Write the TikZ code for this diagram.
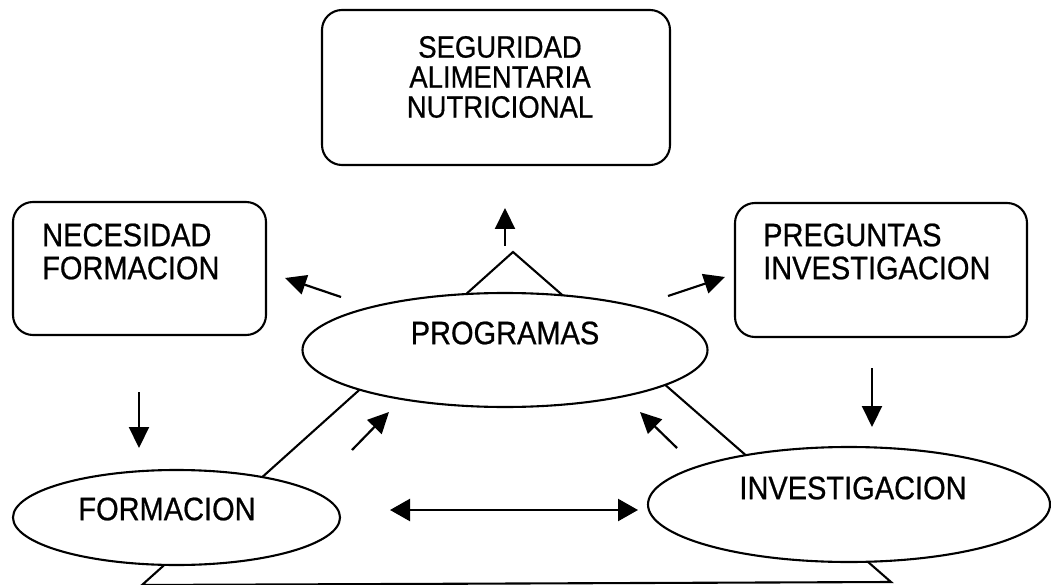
\documentclass[tikz,border=0pt]{standalone}
\usepackage{fontspec}
\setmainfont{Liberation Sans}
\newfontfamily\dgfont{Liberation Sans}[FakeBold=0.7]
\usetikzlibrary{arrows.meta,shapes.geometric}
\tikzset{
  box/.style={draw, line width=2.1pt, rounded corners=20pt, inner sep=0pt},
  oval/.style={draw, ellipse, fill=white, line width=2.1pt, inner sep=0pt},
  lbl/.style={inner sep=0pt, font=\dgfont\fontsize{29}{33}\selectfont},
  toplbl/.style={inner sep=0pt, align=center, font=\dgfont\fontsize{27.5}{30}\selectfont},
  sidelbl/.style={inner sep=0pt, align=left, anchor=west, font=\dgfont\fontsize{29}{33}\selectfont},
  tri/.style={line width=2.1pt, line join=miter},
  arr/.style={line width=2.2pt, -{Triangle[length=21pt,width=20pt]}},
  darr/.style={line width=2.4pt, {Triangle[length=20pt,width=22pt]}-{Triangle[length=20pt,width=22pt]}}
}
\newcommand{\tall}[1]{\scalebox{1}[1.12]{#1}}
\begin{document}
\begin{tikzpicture}[x=1pt,y=-1pt]
\useasboundingbox (0,0) rectangle (1051,585);
\fill[white] (0,0) rectangle (1051,585);

% big triangle behind the ellipses
\draw[tri] (513,252) -- (142,585) -- (891,582) -- cycle;

% boxes
\node[box, minimum width=348pt, minimum height=155pt] (seg) at (496,87.5) {};
\node[toplbl] (segtxt) at (500,77) {\tall{SEGURIDAD}\\\tall{ALIMENTARIA}\\\tall{NUTRICIONAL}};

\node[box, minimum width=253pt, minimum height=133pt] (nec) at (139.5,268.5) {};
\node[sidelbl] (nectxt) at (42,251.5) {\tall{NECESIDAD}\\\tall{FORMACION}};

\node[box, minimum width=292pt, minimum height=134pt] (preg) at (881,270) {};
\node[sidelbl] (pregtxt) at (763,251.5) {\tall{PREGUNTAS}\\\tall{INVESTIGACION}};

% ellipses
\node[oval, minimum width=405pt, minimum height=114pt] (prog) at (505,350) {};
\node[lbl] (progtxt) at (505,333) {\tall{PROGRAMAS}};

\node[oval, minimum width=327pt, minimum height=95pt] (form) at (176.5,517.5) {};
\node[lbl] (formtxt) at (167,509) {\tall{FORMACION}};

\node[oval, minimum width=402pt, minimum height=115pt] (inv) at (849,504.5) {};
\node[lbl] (invtxt) at (853,488) {\tall{INVESTIGACION}};

% arrow end points
\coordinate (upS) at (505,246);   \coordinate (upE) at (505,208);
\coordinate (lS) at (341,297);    \coordinate (lE) at (285,278);
\coordinate (rS) at (668,296);    \coordinate (rE) at (725,277);
\coordinate (ndS) at (139,392);   \coordinate (ndE) at (139,448);
\coordinate (pdS) at (872,368);   \coordinate (pdE) at (872,427);
\coordinate (fpS) at (352,450);   \coordinate (fpE) at (389,412);
\coordinate (ipS) at (677,448);   \coordinate (ipE) at (640,412);
\coordinate (dL) at (390,510);    \coordinate (dR) at (638,510);

\draw[arr] (upS) -- (upE);
\draw[arr] (lS) -- (lE);
\draw[arr] (rS) -- (rE);
\draw[arr] (ndS) -- (ndE);
\draw[arr] (pdS) -- (pdE);
\draw[arr] (fpS) -- (fpE);
\draw[arr] (ipS) -- (ipE);
\draw[darr] (dL) -- (dR);
\end{tikzpicture}
\end{document}
